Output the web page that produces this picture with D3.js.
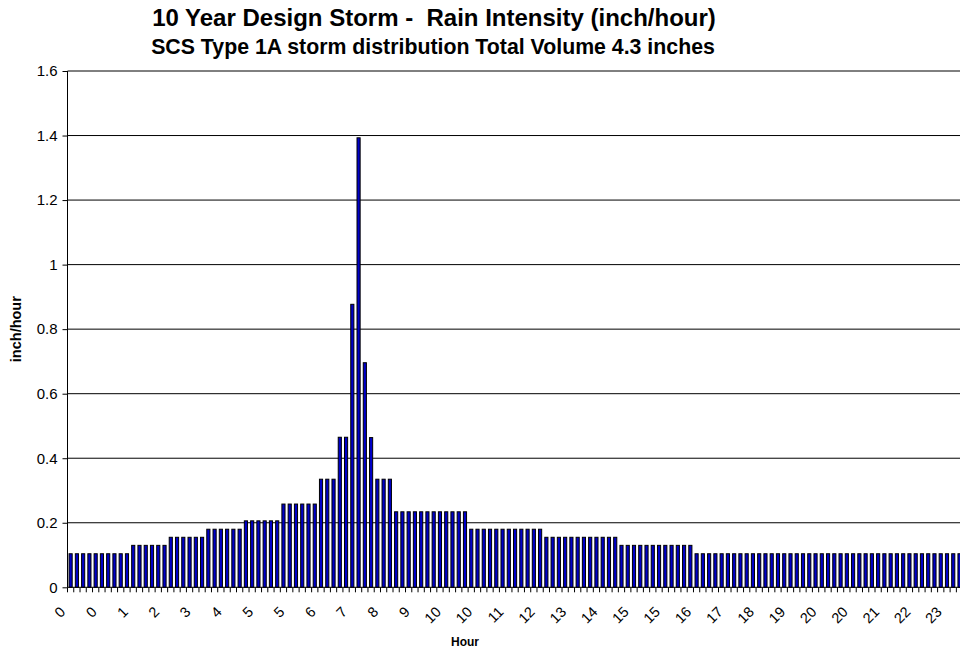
<!DOCTYPE html>
<html>
<head>
<meta charset="utf-8">
<script src="https://cdn.jsdelivr.net/npm/d3@7"></script>
<style>
  body { margin: 0; background: #fff; }
  svg { display: block; }
  text { font-family: "Liberation Sans", Arial, Helvetica, sans-serif; fill: #000; white-space: pre; }
</style>
</head>
<body>
<svg id="chart" width="960" height="650"></svg>
<script>
// Chart text
const titleText = "10 Year Design Storm -  Rain Intensity (inch/hour)";
const subtitleText = "SCS Type 1A storm distribution Total Volume 4.3 inches";
const yAxisTitle = "inch/hour";
const xAxisTitle = "Hour";

// Rain intensity (inch/hour) for each 10-minute step of the 24-hour storm
const intensity = [
  0.104, 0.104, 0.104, 0.104, 0.104, 0.104, 0.104, 0.104, 0.104, 0.104, 0.130, 0.130,
  0.130, 0.130, 0.130, 0.130, 0.155, 0.155, 0.155, 0.155, 0.155, 0.155, 0.180, 0.180,
  0.180, 0.180, 0.180, 0.180, 0.206, 0.206, 0.206, 0.206, 0.206, 0.206, 0.258, 0.258,
  0.258, 0.258, 0.258, 0.258, 0.335, 0.335, 0.335, 0.465, 0.465, 0.877, 1.393, 0.696,
  0.464, 0.335, 0.335, 0.335, 0.234, 0.234, 0.234, 0.234, 0.234, 0.234, 0.234, 0.234,
  0.234, 0.234, 0.234, 0.234, 0.180, 0.180, 0.180, 0.180, 0.180, 0.180, 0.180, 0.180,
  0.180, 0.180, 0.180, 0.180, 0.155, 0.155, 0.155, 0.155, 0.155, 0.155, 0.155, 0.155,
  0.155, 0.155, 0.155, 0.155, 0.130, 0.130, 0.130, 0.130, 0.130, 0.130, 0.130, 0.130,
  0.130, 0.130, 0.130, 0.130, 0.104, 0.104, 0.104, 0.104, 0.104, 0.104, 0.104, 0.104,
  0.104, 0.104, 0.104, 0.104, 0.104, 0.104, 0.104, 0.104, 0.104, 0.104, 0.104, 0.104,
  0.104, 0.104, 0.104, 0.104, 0.104, 0.104, 0.104, 0.104, 0.104, 0.104, 0.104, 0.104,
  0.104, 0.104, 0.104, 0.104, 0.104, 0.104, 0.104, 0.104, 0.104, 0.104, 0.104, 0.104
];

// Category axis: one category per 10-minute step, labelled every 5th step
const steps = d3.range(intensity.length);
const labelEvery = 5;
const hourLabels = ["0", "0", "1", "2", "3", "4", "5", "5", "6", "7", "8", "9", "10", "10",
  "11", "12", "13", "14", "15", "15", "16", "17", "18", "19", "20", "20", "21", "22", "23"];

// Value axis
const yTicks = [0, 0.2, 0.4, 0.6, 0.8, 1.0, 1.2, 1.4, 1.6];
const yTickLabels = ["0", "0.2", "0.4", "0.6", "0.8", "1", "1.2", "1.4", "1.6"];

const svg = d3.select("#chart");

const plot = { left: 67.5, right: 968.9, top: 71, bottom: 587.3 };

const x = d3.scaleBand()
  .domain(steps)
  .range([plot.left, plot.right])
  .paddingInner(0.5)
  .paddingOuter(0.25);

const y = d3.scaleLinear()
  .domain([0, 1.6])
  .range([plot.bottom, plot.top]);

// Horizontal gridlines
svg.append("g")
  .selectAll("line")
  .data(yTicks.filter(d => d > 0))
  .join("line")
  .attr("x1", plot.left)
  .attr("x2", 960)
  .attr("y1", d => y(d))
  .attr("y2", d => y(d))
  .attr("stroke", "#000")
  .attr("stroke-width", 1);

// Bars
svg.append("g")
  .selectAll("rect")
  .data(steps)
  .join("rect")
  .attr("x", i => x(i))
  .attr("y", i => y(intensity[i]))
  .attr("width", x.bandwidth())
  .attr("height", i => y(0) - y(intensity[i]))
  .attr("fill", "#0000c8")
  .attr("stroke", "#000")
  .attr("stroke-width", 1);

// Value axis
const yAxis = d3.axisLeft(y)
  .tickValues(yTicks)
  .tickSize(5)
  .tickPadding(5)
  .tickFormat((d, i) => yTickLabels[i]);

const yg = svg.append("g")
  .attr("transform", `translate(${plot.left},0)`)
  .call(yAxis);
yg.select(".domain").attr("stroke", "#000").attr("d", `M0,${plot.top}V${plot.bottom}`);
yg.selectAll(".tick line").attr("stroke", "#000");
yg.selectAll(".tick text")
  .style("font-size", "15px")
  .attr("fill", "#000");

// Category axis line and tick marks between categories
const xg = svg.append("g");
xg.append("line")
  .attr("x1", plot.left).attr("x2", 960)
  .attr("y1", plot.bottom).attr("y2", plot.bottom)
  .attr("stroke", "#000");
xg.selectAll("line.tk")
  .data(d3.range(steps.length + 1))
  .join("line")
  .attr("class", "tk")
  .attr("x1", k => plot.left + k * x.step())
  .attr("x2", k => plot.left + k * x.step())
  .attr("y1", plot.bottom)
  .attr("y2", plot.bottom + 5)
  .attr("stroke", "#000");

// Rotated hour labels
xg.selectAll("text")
  .data(hourLabels)
  .join("text")
  .attr("transform", (d, k) => {
    const i = k * labelEvery;
    const cx = x(i) + x.bandwidth() / 2 - 4.3;
    return `translate(${cx},${plot.bottom + 25.5}) rotate(-45)`;
  })
  .attr("text-anchor", "end")
  .style("font-size", "14.5px")
  .text(d => d);

// Axis titles
svg.append("text")
  .attr("transform", `translate(21,${(plot.top + plot.bottom) / 2}) rotate(-90)`)
  .attr("text-anchor", "middle")
  .style("font-size", "14.5px")
  .style("font-weight", "bold")
  .text(yAxisTitle);

svg.append("text")
  .attr("x", 465)
  .attr("y", 646)
  .attr("text-anchor", "middle")
  .style("font-size", "12px")
  .style("font-weight", "bold")
  .text(xAxisTitle);

// Titles
svg.append("text")
  .attr("x", 434)
  .attr("y", 26)
  .attr("text-anchor", "middle")
  .style("font-size", "24px")
  .style("font-weight", "bold")
  .text(titleText);

svg.append("text")
  .attr("x", 433)
  .attr("y", 54)
  .attr("text-anchor", "middle")
  .style("font-size", "21.3px")
  .style("font-weight", "bold")
  .text(subtitleText);
</script>
</body>
</html>
